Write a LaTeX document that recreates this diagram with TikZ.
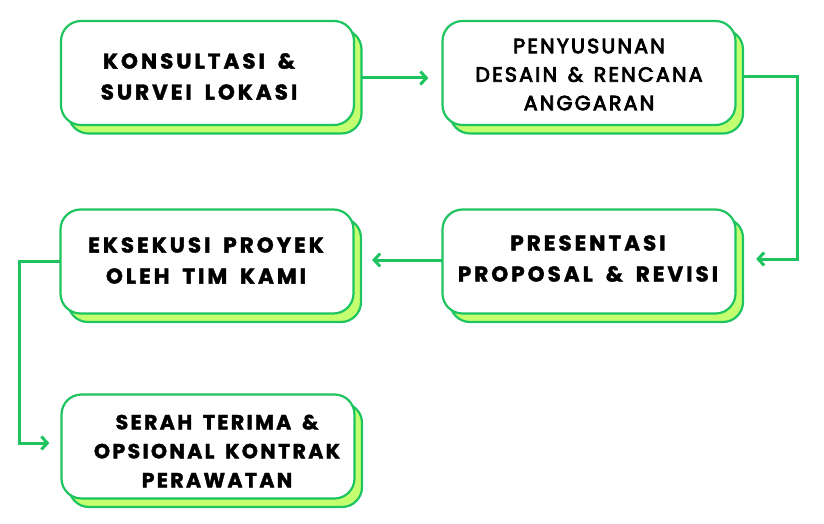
\documentclass[tikz,border=0pt]{standalone}
\usepackage{fontspec}
\newfontfamily\boxfont{Poppins}[LetterSpace=14,WordSpace=1.7,BoldFeatures={FakeBold=1.8}]
\newfontfamily\boxfontthree{Poppins}[LetterSpace=11.5,WordSpace=1.6,BoldFeatures={FakeBold=1.8}]
\newfontfamily\medfont{Poppins}[LetterSpace=11,WordSpace=1.4,FakeBold=4]
\usetikzlibrary{arrows.meta}
\definecolor{edgegreen}{RGB}{30,196,96}
\definecolor{shadegreen}{RGB}{196,255,112}
\tikzset{
  front/.style={draw=edgegreen, line width=2.2pt, fill=white, rounded corners=20pt,
    minimum width=293pt, minimum height=104pt, inner sep=0pt},
  shade/.style={draw=edgegreen, line width=2.2pt, fill=shadegreen, rounded corners=20pt,
    minimum width=293pt, minimum height=104pt, inner sep=0pt},
  heavytxt/.style={align=center, inner sep=0pt, font=\boxfont\bfseries\fontsize{21.5}{31}\selectfont},
  heavytxtthree/.style={align=center, inner sep=0pt, font=\boxfontthree\bfseries\fontsize{20.5}{29}\selectfont},
  lighttxt/.style={align=center, inner sep=0pt, font=\medfont\fontsize{20.5}{28.5}\selectfont},
  link/.style={draw=edgegreen, line width=3pt, line cap=round, line join=miter,
    -{Straight Barb[length=6pt,width=13pt,line width=3pt]}},
}
\begin{document}
\begin{tikzpicture}[x=1pt,y=-1pt]
\useasboundingbox (0,0) rectangle (824,524);
% shadows
\node[shade] (s1) at (215,81.5) {};
\node[shade] (s2) at (596.5,81.5) {};
\node[shade] (s3) at (596.5,270) {};
\node[shade] (s4) at (214.5,270) {};
\node[shade] (s5) at (215.5,455) {};
% front boxes
\node[front] (b1) at (207.5,73) {};
\node[front] (b2) at (589,73) {};
\node[front] (b3) at (589,261.5) {};
\node[front] (b4) at (207,261.5) {};
\node[front] (b5) at (208,446.5) {};
% texts
\node[heavytxt] (t1) at (199,76.5) {KONSULTASI \&\\SURVEI LOKASI};
\node[lighttxt] (t2) at (589,74.5) {PENYUSUNAN\\DESAIN \& RENCANA\\ANGGARAN};
\node[heavytxt] (t3) at (588,258.5) {PRESENTASI\\PROPOSAL \& REVISI};
\node[heavytxt] (t4) at (206,260.5) {EKSEKUSI PROYEK\\OLEH TIM KAMI};
\node[heavytxtthree] (t5) at (217,451) {SERAH TERIMA \&\\OPSIONAL KONTRAK\\PERAWATAN};
% connectors
\coordinate (c2a) at (797,77);
\coordinate (c4a) at (19,261);
\draw[link, shorten >=1pt] (s1.east |- 0,78) -- ([xshift=-12pt]b2.west |- 0,78);
\draw[link] (s2.east |- 0,77) -- (c2a) -- (c2a |- 0,259) -- ([xshift=12pt]s3.east |- 0,259);
\draw[link] (b3.west |- 0,260) -- ([xshift=10pt]s4.east |- 0,260);
\draw[link] (b4.west |- 0,261) -- (c4a) -- (c4a |- 0,443) -- ([xshift=-11pt]b5.west |- 0,443);
\end{tikzpicture}
\end{document}
